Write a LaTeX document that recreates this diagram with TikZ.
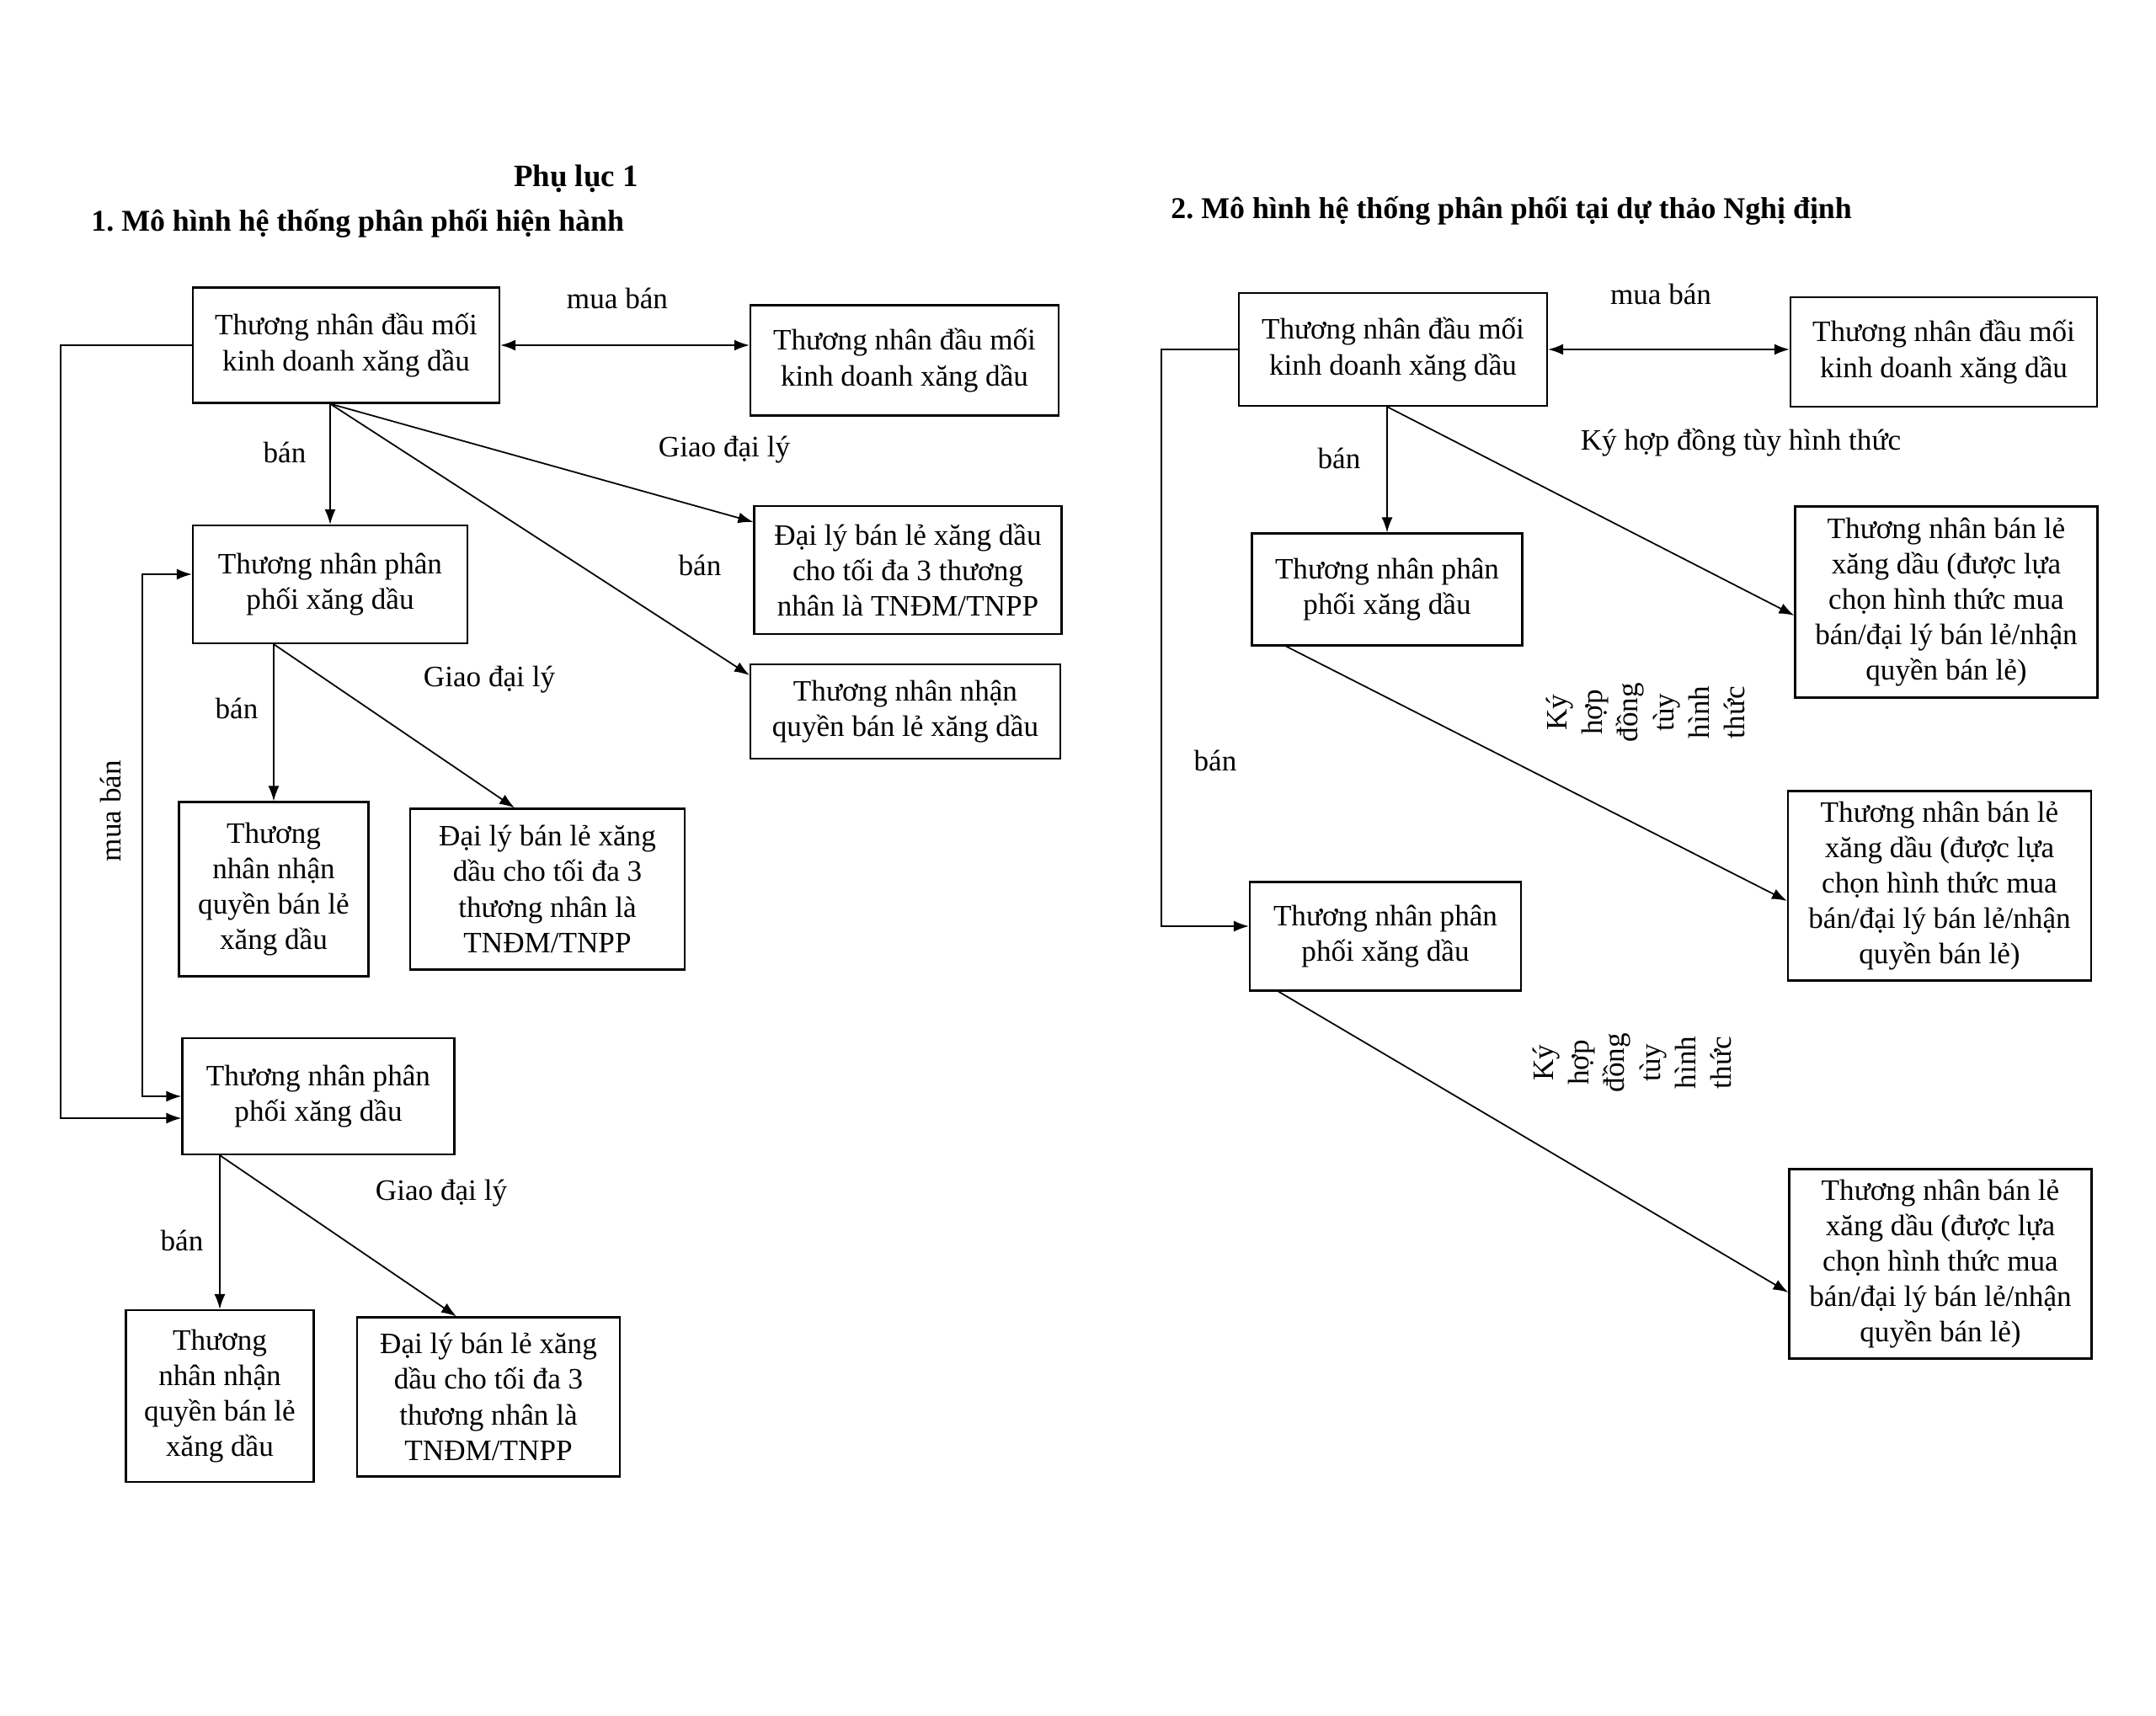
\documentclass[tikz,border=0pt]{standalone}
\usepackage{fontspec}
\setmainfont{Liberation Serif}
\usetikzlibrary{arrows.meta, positioning, calc}
\frenchspacing

\tikzset{
  box/.style={draw, line width=0.6pt, align=center, inner sep=2pt, font=\fontsize{10}{12}\selectfont},
  lbl/.style={font=\fontsize{10}{12}\selectfont},
  ttl/.style={font=\bfseries\fontsize{10.2}{12}\selectfont, anchor=west},
  flow/.style={line width=0.5pt, -{Latex[length=1.8mm,width=1.3mm]}},
  both/.style={line width=0.6pt, {Latex[length=1.8mm,width=1.3mm]}-{Latex[length=1.8mm,width=1.3mm]}},
}

\begin{document}
\begin{tikzpicture}
  \useasboundingbox (0,0) rectangle (25.6,-20.38);

  % 1. hien hanh
  \node[lbl, font=\bfseries\fontsize{10.5}{12}\selectfont] (pl) at (6.84,-2.12) {Phụ lục 1};
  \node[ttl] (t1) at (0.96,-2.65) {1. Mô hình hệ thống phân phối hiện hành};

  \node[box, minimum width=3.64cm, minimum height=1.37cm] (A1) at (4.11,-4.10)
       {Thương nhân đầu mối\\kinh doanh xăng dầu};
  \node[box, minimum width=3.66cm, minimum height=1.31cm] (A2) at (10.74,-4.28)
       {Thương nhân đầu mối\\kinh doanh xăng dầu};
  \node[box, minimum width=3.26cm, minimum height=1.40cm] (B1) at (3.92,-6.94)
       {Thương nhân phân\\phối xăng dầu};
  \node[box, minimum width=3.65cm, minimum height=1.52cm] (R1) at (10.78,-6.77)
       {Đại lý bán lẻ xăng dầu\\cho tối đa 3 thương\\nhân là TNĐM/TNPP};
  \node[box, minimum width=3.68cm, minimum height=1.12cm] (R2) at (10.75,-8.45)
       {Thương nhân nhận\\quyền bán lẻ xăng dầu};
  \node[box, minimum width=2.25cm, minimum height=2.07cm] (C1) at (3.25,-10.56)
       {Thương\\nhân nhận\\quyền bán lẻ\\xăng dầu};
  \node[box, minimum width=3.26cm, minimum height=1.91cm] (C2) at (6.50,-10.56)
       {Đại lý bán lẻ xăng\\dầu cho tối đa 3\\thương nhân là\\TNĐM/TNPP};
  \node[box, minimum width=3.23cm, minimum height=1.38cm] (D1) at (3.78,-13.02)
       {Thương nhân phân\\phối xăng dầu};
  \node[box, minimum width=2.23cm, minimum height=2.04cm] (E1) at (2.61,-16.58)
       {Thương\\nhân nhận\\quyền bán lẻ\\xăng dầu};
  \node[box, minimum width=3.12cm, minimum height=1.89cm] (E2) at (5.80,-16.59)
       {Đại lý bán lẻ xăng\\dầu cho tối đa 3\\thương nhân là\\TNĐM/TNPP};

  \draw[both] (A1.east) -- (A1.east -| A2.west);
  \draw[flow] (A1.south -| B1.north) -- (B1.north);
  \draw[flow] (A1.south -| B1.north) -- ([yshift=-2mm]R1.north west);
  \draw[flow] (A1.south -| B1.north) -- ([yshift=-1.4mm]R2.north west);
  \draw[flow] (C1.north |- B1.south) -- (C1.north);
  \draw[flow] (C1.north |- B1.south) -- ([xshift=-3.9mm]C2.north);
  \draw[both] ([yshift=1.2mm]B1.west) -- ++(-0.59,0) |- (D1.west);
  \draw[flow] (A1.west) -- ++(-1.56,0) |- ([yshift=-2.6mm]D1.west);
  \draw[flow] (E1.north |- D1.south) -- (E1.north);
  \draw[flow] (E1.north |- D1.south) -- ([xshift=-3.8mm]E2.north);

  \node[lbl] (m1) at (7.33,-3.54) {mua bán};
  \node[lbl] (b1) at (3.38,-5.37) {bán};
  \node[lbl] (g1) at (8.60,-5.34) {Giao đại lý};
  \node[lbl] (b2) at (8.31,-6.71) {bán};
  \node[lbl] (g2) at (5.81,-8.07) {Giao đại lý};
  \node[lbl] (b3) at (2.81,-8.41) {bán};
  \node[lbl, rotate=90] (m2) at (1.31,-9.63) {mua bán};
  \node[lbl] (g3) at (5.24,-14.17) {Giao đại lý};
  \node[lbl] (b4) at (2.16,-14.73) {bán};

  % 2. du thao
  \node[ttl] (t2) at (13.78,-2.50) {2. Mô hình hệ thống phân phối tại dự thảo Nghị định};

  \node[box, minimum width=3.66cm, minimum height=1.34cm] (F1) at (16.54,-4.15)
       {Thương nhân đầu mối\\kinh doanh xăng dầu};
  \node[box, minimum width=3.64cm, minimum height=1.30cm] (F2) at (23.08,-4.18)
       {Thương nhân đầu mối\\kinh doanh xăng dầu};
  \node[box, minimum width=3.21cm, minimum height=1.33cm] (G1) at (16.47,-7.00)
       {Thương nhân phân\\phối xăng dầu};
  \node[box, minimum width=3.59cm, minimum height=2.27cm] (H1) at (23.11,-7.15)
       {Thương nhân bán lẻ\\xăng dầu (được lựa\\chọn hình thức mua\\bán/đại lý bán lẻ/nhận\\quyền bán lẻ)};
  \node[box, minimum width=3.60cm, minimum height=2.25cm] (H2) at (23.03,-10.52)
       {Thương nhân bán lẻ\\xăng dầu (được lựa\\chọn hình thức mua\\bán/đại lý bán lẻ/nhận\\quyền bán lẻ)};
  \node[box, minimum width=3.22cm, minimum height=1.29cm] (G2) at (16.45,-11.12)
       {Thương nhân phân\\phối xăng dầu};
  \node[box, minimum width=3.59cm, minimum height=2.25cm] (H3) at (23.04,-15.01)
       {Thương nhân bán lẻ\\xăng dầu (được lựa\\chọn hình thức mua\\bán/đại lý bán lẻ/nhận\\quyền bán lẻ)};

  \draw[both] (F1.east) -- (F1.east -| F2.west);
  \draw[flow] (F1.south -| G1.north) -- (G1.north);
  \draw[flow] (F1.south -| G1.north) -- ([yshift=-1.6mm]H1.west);
  \draw[flow] ([xshift=-1.2cm]G1.south) -- ([yshift=-1.8mm]H2.west);
  \draw[flow] (F1.west) -- ++(-0.91,0) |- ([yshift=1.2mm]G2.west);
  \draw[flow] ([xshift=-1.27cm]G2.south) -- ([yshift=-3.4mm]H3.west);

  \node[lbl] (m3) at (19.72,-3.49) {mua bán};
  \node[lbl] (b5) at (15.90,-5.44) {bán};
  \node[lbl] (k1) at (20.67,-5.26) {Ký hợp đồng tùy hình thức};
  \node[lbl, rotate=90, align=center] (k2) at (19.54,-8.46) {Ký\\hợp\\đồng\\tùy\\hình\\thức};
  \node[lbl] (b6) at (14.43,-9.03) {bán};
  \node[lbl, rotate=90, align=center] (k3) at (19.38,-12.62) {Ký\\hợp\\đồng\\tùy\\hình\\thức};
\end{tikzpicture}
\end{document}
